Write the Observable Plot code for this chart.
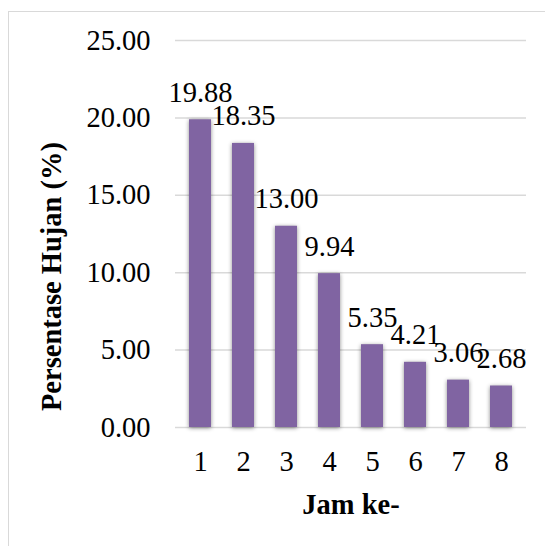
<!DOCTYPE html>
<html>
<head>
<meta charset="utf-8">
<script src="https://cdn.jsdelivr.net/npm/d3@7"></script>
<script src="https://cdn.jsdelivr.net/npm/@observablehq/plot@0.6"></script>
<style>
  html, body { margin: 0; padding: 0; background: #fff; overflow: hidden; }
  #wrap { position: relative; width: 545px; height: 546px; }
  #border {
    position: absolute; left: 8px; top: 11px; width: 600px; height: 600px;
    border: 1.5px solid #d9d9d9; box-sizing: border-box;
  }
  #chart { position: absolute; left: 0; top: 0; }
  #chart g[aria-label="bar"] { filter: drop-shadow(0px 1px 2px rgba(0,0,0,0.45)); }
</style>
</head>
<body>
<div id="wrap">
  <div id="border"></div>
  <div id="chart"></div>
</div>
<script>
// Hourly rainfall distribution (percent of total rain per hour)
const hours = [1, 2, 3, 4, 5, 6, 7, 8];
const percents = [19.88, 18.35, 13.00, 9.94, 5.35, 4.21, 3.06, 2.68];
const yTicks = [0, 5, 10, 15, 20, 25];
const xTitle = "Jam ke-";
const yTitle = "Persentase Hujan (%)";

const rows = hours.map((h, i) => ({hour: h, pct: percents[i]}));
const fmt = d3.format(".2f");
const serif = "Tinos, 'Liberation Serif', 'DejaVu Serif', 'Times New Roman', Times, serif";
const fs = 28.5;

const chart = Plot.plot({
  width: 545,
  height: 546,
  marginLeft: 175,
  marginRight: 19,
  marginTop: 40,
  marginBottom: 119,
  style: {fontFamily: serif, fontSize: fs + "px", color: "#000", background: "transparent", overflow: "visible"},
  x: {domain: hours, paddingInner: 0.5, paddingOuter: 0.25, label: null},
  y: {domain: [0, 25], label: null},
  marks: [
    Plot.ruleY(yTicks, {stroke: "#d9d9d9", strokeWidth: 1.5}),
    Plot.barY(rows, {x: "hour", y: "pct", fill: "#8064A2"}),
    Plot.text(rows, {
      x: "hour", y: "pct", text: d => fmt(d.pct),
      lineAnchor: "bottom", dy: -18, fill: "#000", fontSize: fs, fontFamily: serif
    }),
    Plot.axisY({ticks: yTicks, tickSize: 0, tickPadding: 25, tickFormat: fmt, label: null, fontSize: fs, fontFamily: serif}),
    Plot.axisX({tickSize: 0, tickPadding: 23, label: null, fontSize: fs, fontFamily: serif}),
    Plot.text([xTitle], {
      frameAnchor: "bottom", text: d => d, textAnchor: "middle", lineAnchor: "bottom",
      dy: 86, fontWeight: "bold", fontSize: fs, fontFamily: serif, fill: "#000"
    }),
    Plot.text([yTitle], {
      frameAnchor: "left", text: d => d, rotate: -90, textAnchor: "middle", lineAnchor: "bottom",
      dx: -115, dy: 42.5, fontWeight: "bold", fontSize: fs, fontFamily: serif, fill: "#000"
    })
  ]
});

document.getElementById("chart").appendChild(chart);
</script>
</body>
</html>
